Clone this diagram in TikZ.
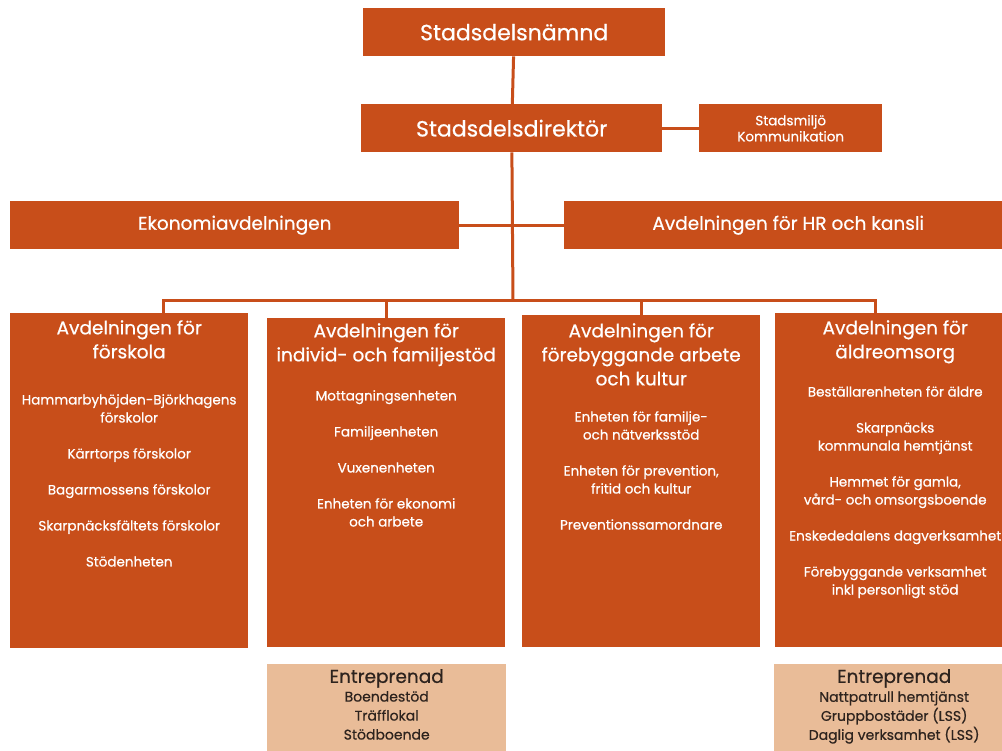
\documentclass[tikz,border=0pt]{standalone}
\usepackage{fontspec}
\setmainfont{Poppins}[FakeBold=0.6]
\usetikzlibrary{calc}
\definecolor{sdorange}{RGB}{200,78,26}
\definecolor{sdpeach}{RGB}{233,188,152}
\definecolor{sdtext}{RGB}{45,35,30}
\begin{document}
\begin{tikzpicture}[x=1pt,y=-1pt,
  box/.style={fill=sdorange,text=white,inner sep=0pt,anchor=north west,align=center},
  peach/.style={fill=sdpeach,inner sep=0pt,anchor=north west},
  head/.style={text=white,inner sep=0pt,anchor=north,align=center,font=\fontsize{18.5}{24}\selectfont},
  items/.style={text=white,inner sep=0pt,anchor=north,align=center,font=\fontsize{13.5}{18}\selectfont},
  link/.style={draw=sdorange,line width=3pt}]
\useasboundingbox (0,0) rectangle (1002,751);
\node[box,minimum width=302,minimum height=48,font=\fontsize{22}{24}\selectfont] (namnd) at (363,8) {Stadsdelsnämnd};
\node[box,minimum width=301,minimum height=48,font=\fontsize{22}{24}\selectfont] (dir) at (361,104) {Stadsdelsdirektör};
\node[box,minimum width=183,minimum height=48,font=\fontsize{13.5}{16}\selectfont] (stad) at (699,104) {Stadsmiljö\\Kommunikation};
\node[box,minimum width=449,minimum height=48,font=\fontsize{18.5}{20}\selectfont] (eko) at (10,201) {Ekonomiavdelningen};
\node[box,minimum width=448,minimum height=48,font=\fontsize{18.5}{20}\selectfont] (hr) at (564,201) {Avdelningen för HR och kansli};
\node[box,minimum width=238,minimum height=335] (fsk) at (10,313) {};
\node[box,minimum width=238,minimum height=329] (ifs) at (267,318) {};
\node[box,minimum width=238,minimum height=332] (fak) at (522,315) {};
\node[box,minimum width=240,minimum height=334] (aldre) at (775,313) {};
\node[peach,minimum width=239,minimum height=90] (ent1) at (267,664) {};
\node[peach,minimum width=240,minimum height=90] (ent2) at (774,664) {};
\coordinate (bus) at (513,301);
\draw[link] (namnd) -- (dir);
\draw[link] (dir) -- (stad);
\draw[link] (dir) -- (bus);
\draw[link] (eko) -- (hr);
\draw[link] ([xshift=34pt]fsk.north) |- (bus) -| ([xshift=-20pt]aldre.north);
\draw[link] (ifs.north) -- (ifs.north |- bus);
\draw[link] (fak.north) -- (fak.north |- bus);
\node[head] (fskh) at ($(fsk.north)+(0,7)$) {Avdelningen för\\förskola};
\node[items] (fski) at ($(fsk.north)+(0,81)$) {Hammarbyhöjden-Björkhagens\\förskolor\\[18pt]Kärrtorps förskolor\\[18pt]Bagarmossens förskolor\\[18pt]Skarpnäcksfältets förskolor\\[18pt]Stödenheten};
\node[head] (ifsh) at ($(ifs.north)+(0,5)$) {Avdelningen för\\individ- och familjestöd};
\node[items] (ifsi) at ($(ifs.north)+(0,72)$) {Mottagningsenheten\\[18pt]Familjeenheten\\[18pt]Vuxenenheten\\[18pt]Enheten för ekonomi\\och arbete};
\node[head] (fakh) at ($(fak.north)+(0,8)$) {Avdelningen för\\förebyggande arbete\\och kultur};
\node[items] (faki) at ($(fak.north)+(0,96)$) {Enheten för familje-\\och nätverksstöd\\[18pt]Enheten för prevention,\\fritid och kultur\\[18pt]Preventionssamordnare};
\node[head] (aldreh) at ($(aldre.north)+(0,7)$) {Avdelningen för\\äldreomsorg};
\node[items] (aldrei) at ($(aldre.north)+(0,73)$) {Beställarenheten för äldre\\[18pt]Skarpnäcks\\kommunala hemtjänst\\[18pt]Hemmet för gamla,\\vård- och omsorgsboende\\[18pt]Enskededalens dagverksamhet\\[18pt]Förebyggande verksamhet\\inkl personligt stöd};
\node[head,text=sdtext] (ent1h) at ($(ent1.north)+(0,5)$) {Entreprenad};
\node[items,text=sdtext,font=\fontsize{14}{19}\selectfont] (ent1i) at ($(ent1.north)+(0,27)$) {Boendestöd\\Träfflokal\\Stödboende};
\node[head,text=sdtext] (ent2h) at ($(ent2.north)+(0,5)$) {Entreprenad};
\node[items,text=sdtext,font=\fontsize{14}{19}\selectfont] (ent2i) at ($(ent2.north)+(0,27)$) {Nattpatrull hemtjänst\\Gruppbostäder (LSS)\\Daglig verksamhet (LSS)};
\end{tikzpicture}
\end{document}
